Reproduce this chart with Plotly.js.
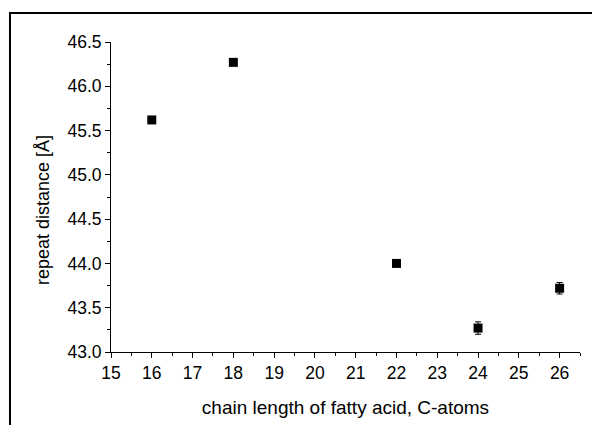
<!DOCTYPE html>
<html>
<head>
<meta charset="utf-8">
<script src="https://cdn.plot.ly/plotly-3.0.1.min.js"></script>
<style>html,body{margin:0;padding:0;background:#fff;}#chart{width:592px;height:425px;}</style>
</head>
<body>
<div id="chart"></div>
<script>
const chainLength = [16, 18, 22, 24, 26];
const repeatDistance = [45.62, 46.27, 44.0, 43.27, 43.72];
const errorValues = [0.02, 0.02, 0.02, 0.07, 0.065];
const xTickVals = [15, 16, 17, 18, 19, 20, 21, 22, 23, 24, 25, 26];
const yTickVals = [43.0, 43.5, 44.0, 44.5, 45.0, 45.5, 46.0, 46.5];
const xTitle = 'chain length of fatty acid, C-atoms';
const yTitle = 'repeat distance [Å]';

const trace = {
  x: chainLength,
  y: repeatDistance,
  type: 'scatter',
  mode: 'markers',
  marker: {symbol: 'square', size: 9, color: '#000'},
  error_y: {type: 'data', array: errorValues, visible: true, color: '#000', thickness: 1, width: 3},
  showlegend: false,
  hoverinfo: 'x+y'
};

const fontFam = 'Arial, "Liberation Sans", Helvetica, sans-serif';

const layout = {
  width: 592, height: 425,
  margin: {l: 111, r: 12, t: 42, b: 73},
  paper_bgcolor: '#fff', plot_bgcolor: '#fff',
  font: {family: fontFam, color: '#000', size: 17.5},
  xaxis: {
    range: [15, 26.5],
    tickvals: xTickVals,
    ticktext: xTickVals.map(String),
    ticks: 'outside', ticklen: 5, tickwidth: 1, tickcolor: '#000',
    minor: {dtick: 0.5, tick0: 15, ticks: 'outside', ticklen: 3, tickwidth: 1, tickcolor: '#000'},
    showline: true, linecolor: '#000', linewidth: 1,
    showgrid: false, zeroline: false,
    tickfont: {size: 17.5, family: fontFam},
    title: {text: xTitle, font: {size: 19, family: fontFam}, standoff: 18}
  },
  yaxis: {
    range: [43.0, 46.5],
    tickvals: yTickVals,
    ticktext: yTickVals.map(v => v.toFixed(1)),
    ticks: 'outside', ticklen: 5, tickwidth: 1, tickcolor: '#000',
    minor: {dtick: 0.25, tick0: 43, ticks: 'outside', ticklen: 3, tickwidth: 1, tickcolor: '#000'},
    showline: true, linecolor: '#000', linewidth: 1,
    showgrid: false, zeroline: false,
    tickfont: {size: 17.5, family: fontFam},
    title: {text: ''}
  },
  annotations: [{
    text: yTitle, xref: 'paper', yref: 'paper',
    x: -0.145, y: 0.458, xanchor: 'center', yanchor: 'middle',
    textangle: -90, showarrow: false,
    font: {size: 18, family: fontFam, color: '#000'}
  }],
  shapes: [{
    type: 'rect', xref: 'paper', yref: 'paper',
    x0: -0.2154, x1: 1.5, y0: -0.5, y1: 1.0935,
    line: {color: '#000', width: 2}, fillcolor: 'rgba(0,0,0,0)', layer: 'below'
  }]
};

Plotly.newPlot('chart', [trace], layout, {displayModeBar: false, staticPlot: true});
</script>
</body>
</html>
